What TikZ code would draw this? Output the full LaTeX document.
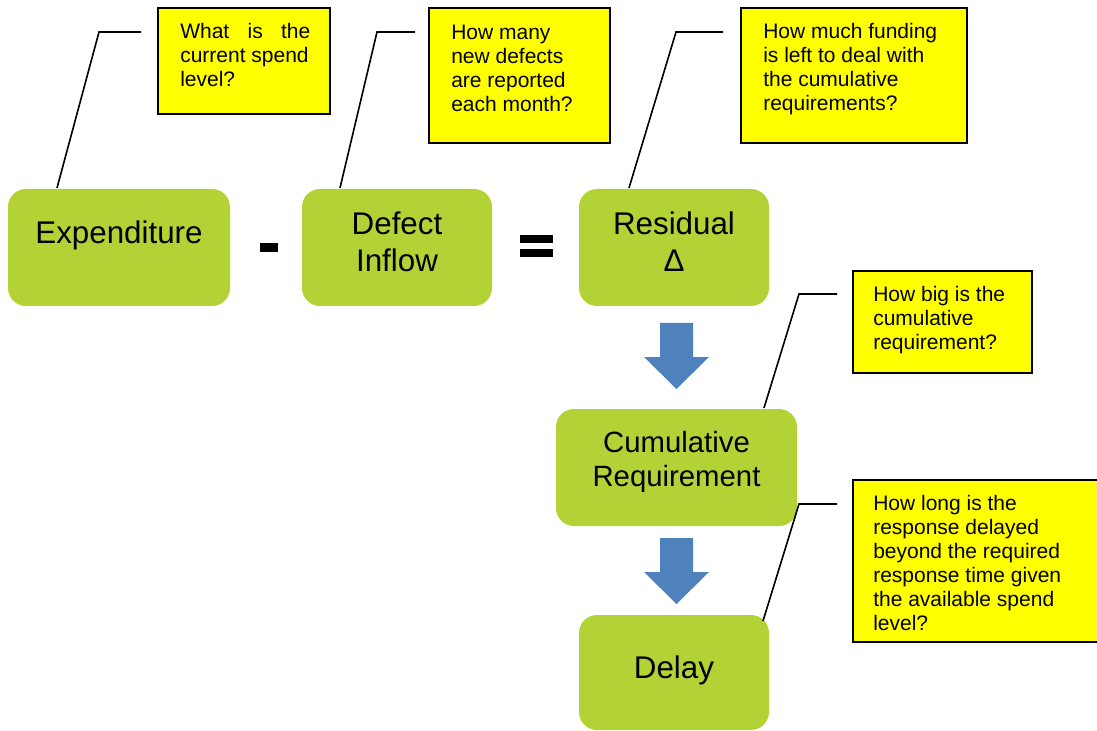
\documentclass[tikz,border=0pt]{standalone}
\usepackage{fontspec}
\setmainfont{Liberation Sans}
\definecolor{boxgreen}{RGB}{179,210,53}
\definecolor{qyellow}{RGB}{255,255,0}
\definecolor{arrowblue}{RGB}{79,129,189}
\tikzset{
  gbox/.style={fill=boxgreen, rounded corners=13.5pt, inner sep=0pt},
  gtext/.style={inner sep=0pt, align=center, font=\fontsize{23.5}{27.75}\selectfont},
  qbox/.style={fill=qyellow, draw=black, line width=1.9pt, inner sep=0pt},
  qtext/.style={inner sep=0pt, align=left, anchor=north west, font=\fontsize{15.75}{18}\selectfont},
  callout/.style={draw=black, line width=1.2pt},
  bigarrow/.style={fill=arrowblue},
  opsign/.style={fill=black}
}
\begin{document}
\begin{tikzpicture}[x=0.75pt, y=-0.75pt]
\useasboundingbox (0,0) rectangle (1097,731);
\clip (0,0) rectangle (1097,731);

% green boxes
\node[gbox, minimum width=166.5pt, minimum height=87.75pt] (exp) at (119,247.5) {};
\node[gbox, minimum width=142.5pt, minimum height=87.75pt] (def) at (397,247.5) {};
\node[gbox, minimum width=142.5pt, minimum height=87.75pt] (res) at (674,247.5) {};
\node[gbox, minimum width=180.75pt, minimum height=87.75pt] (cum) at (676.5,467.5) {};
\node[gbox, minimum width=142.5pt, minimum height=86.25pt] (del) at (674,672.5) {};

\node[gtext, anchor=base] (expt) at (119,244) {Expenditure};
\node[gtext, anchor=north] (deft) at (397,212) {Defect\\Inflow};
\node[gtext, anchor=north] (rest) at (674,212) {Residual\\Δ};
\node[gtext, anchor=north, font=\fontsize{22}{25.5}\selectfont] (cumt) at (676.5,431) {Cumulative\\Requirement};
\node[gtext, anchor=base] (delt) at (674,678) {Delay};

% operators
\fill[opsign] (260,243) rectangle (278,252);
\fill[opsign] (520,235) rectangle (553,243);
\fill[opsign] (520,249) rectangle (553,257);

% blue arrows
\fill[bigarrow] (660,323) -- (693,323) -- (693,357) -- (709,357) -- (676.5,389) -- (644,357) -- (660,357) -- cycle;
\fill[bigarrow] (660,538) -- (693,538) -- (693,572) -- (709,572) -- (676.5,604) -- (644,572) -- (660,572) -- cycle;

% question boxes
\node[qbox, minimum width=129pt, minimum height=79.5pt] (q1) at (244,61) {};
\node[qbox, minimum width=135.75pt, minimum height=101.25pt] (q2) at (519.5,75.5) {};
\node[qbox, minimum width=169.5pt, minimum height=101.25pt] (q3) at (854,75.5) {};
\node[qbox, minimum width=134.25pt, minimum height=76.5pt] (q4) at (942.5,322) {};
\node[qbox, minimum width=192.75pt, minimum height=121.5pt] (q5) at (981.5,561) {};

\node[qtext] (q1t) at (180,23) {\makebox[97.5pt][s]{What is the}\\current spend\\level?};
\node[qtext] (q2t) at (451,25) {How many\\new defects\\are reported\\each month?};
\node[qtext] (q3t) at (763,23) {How much funding\\is left to deal with\\the cumulative\\requirements?};
\node[qtext] (q4t) at (873,286) {How big is the\\cumulative\\requirement?};
\node[qtext] (q5t) at (873,495) {How long is the\\response delayed\\beyond the required\\response time given\\the available spend\\level?};

% callout lines
\coordinate (c1s) at (57,188);  \coordinate (c1b) at (99,32);  \coordinate (c1e) at (141,32);
\coordinate (c2s) at (340,188); \coordinate (c2b) at (377,32); \coordinate (c2e) at (415,32);
\coordinate (c3s) at (629,188); \coordinate (c3b) at (676,32); \coordinate (c3e) at (723,32);
\coordinate (c4s) at (764,408); \coordinate (c4b) at (799,294); \coordinate (c4e) at (837,294);
\coordinate (c5s) at (763,621); \coordinate (c5b) at (799,504); \coordinate (c5e) at (837,504);
\draw[callout] (c1s) -- (c1b) -- (c1e);
\draw[callout] (c2s) -- (c2b) -- (c2e);
\draw[callout] (c3s) -- (c3b) -- (c3e);
\draw[callout] (c4s) -- (c4b) -- (c4e);
\draw[callout] (c5s) -- (c5b) -- (c5e);
\end{tikzpicture}
\end{document}
